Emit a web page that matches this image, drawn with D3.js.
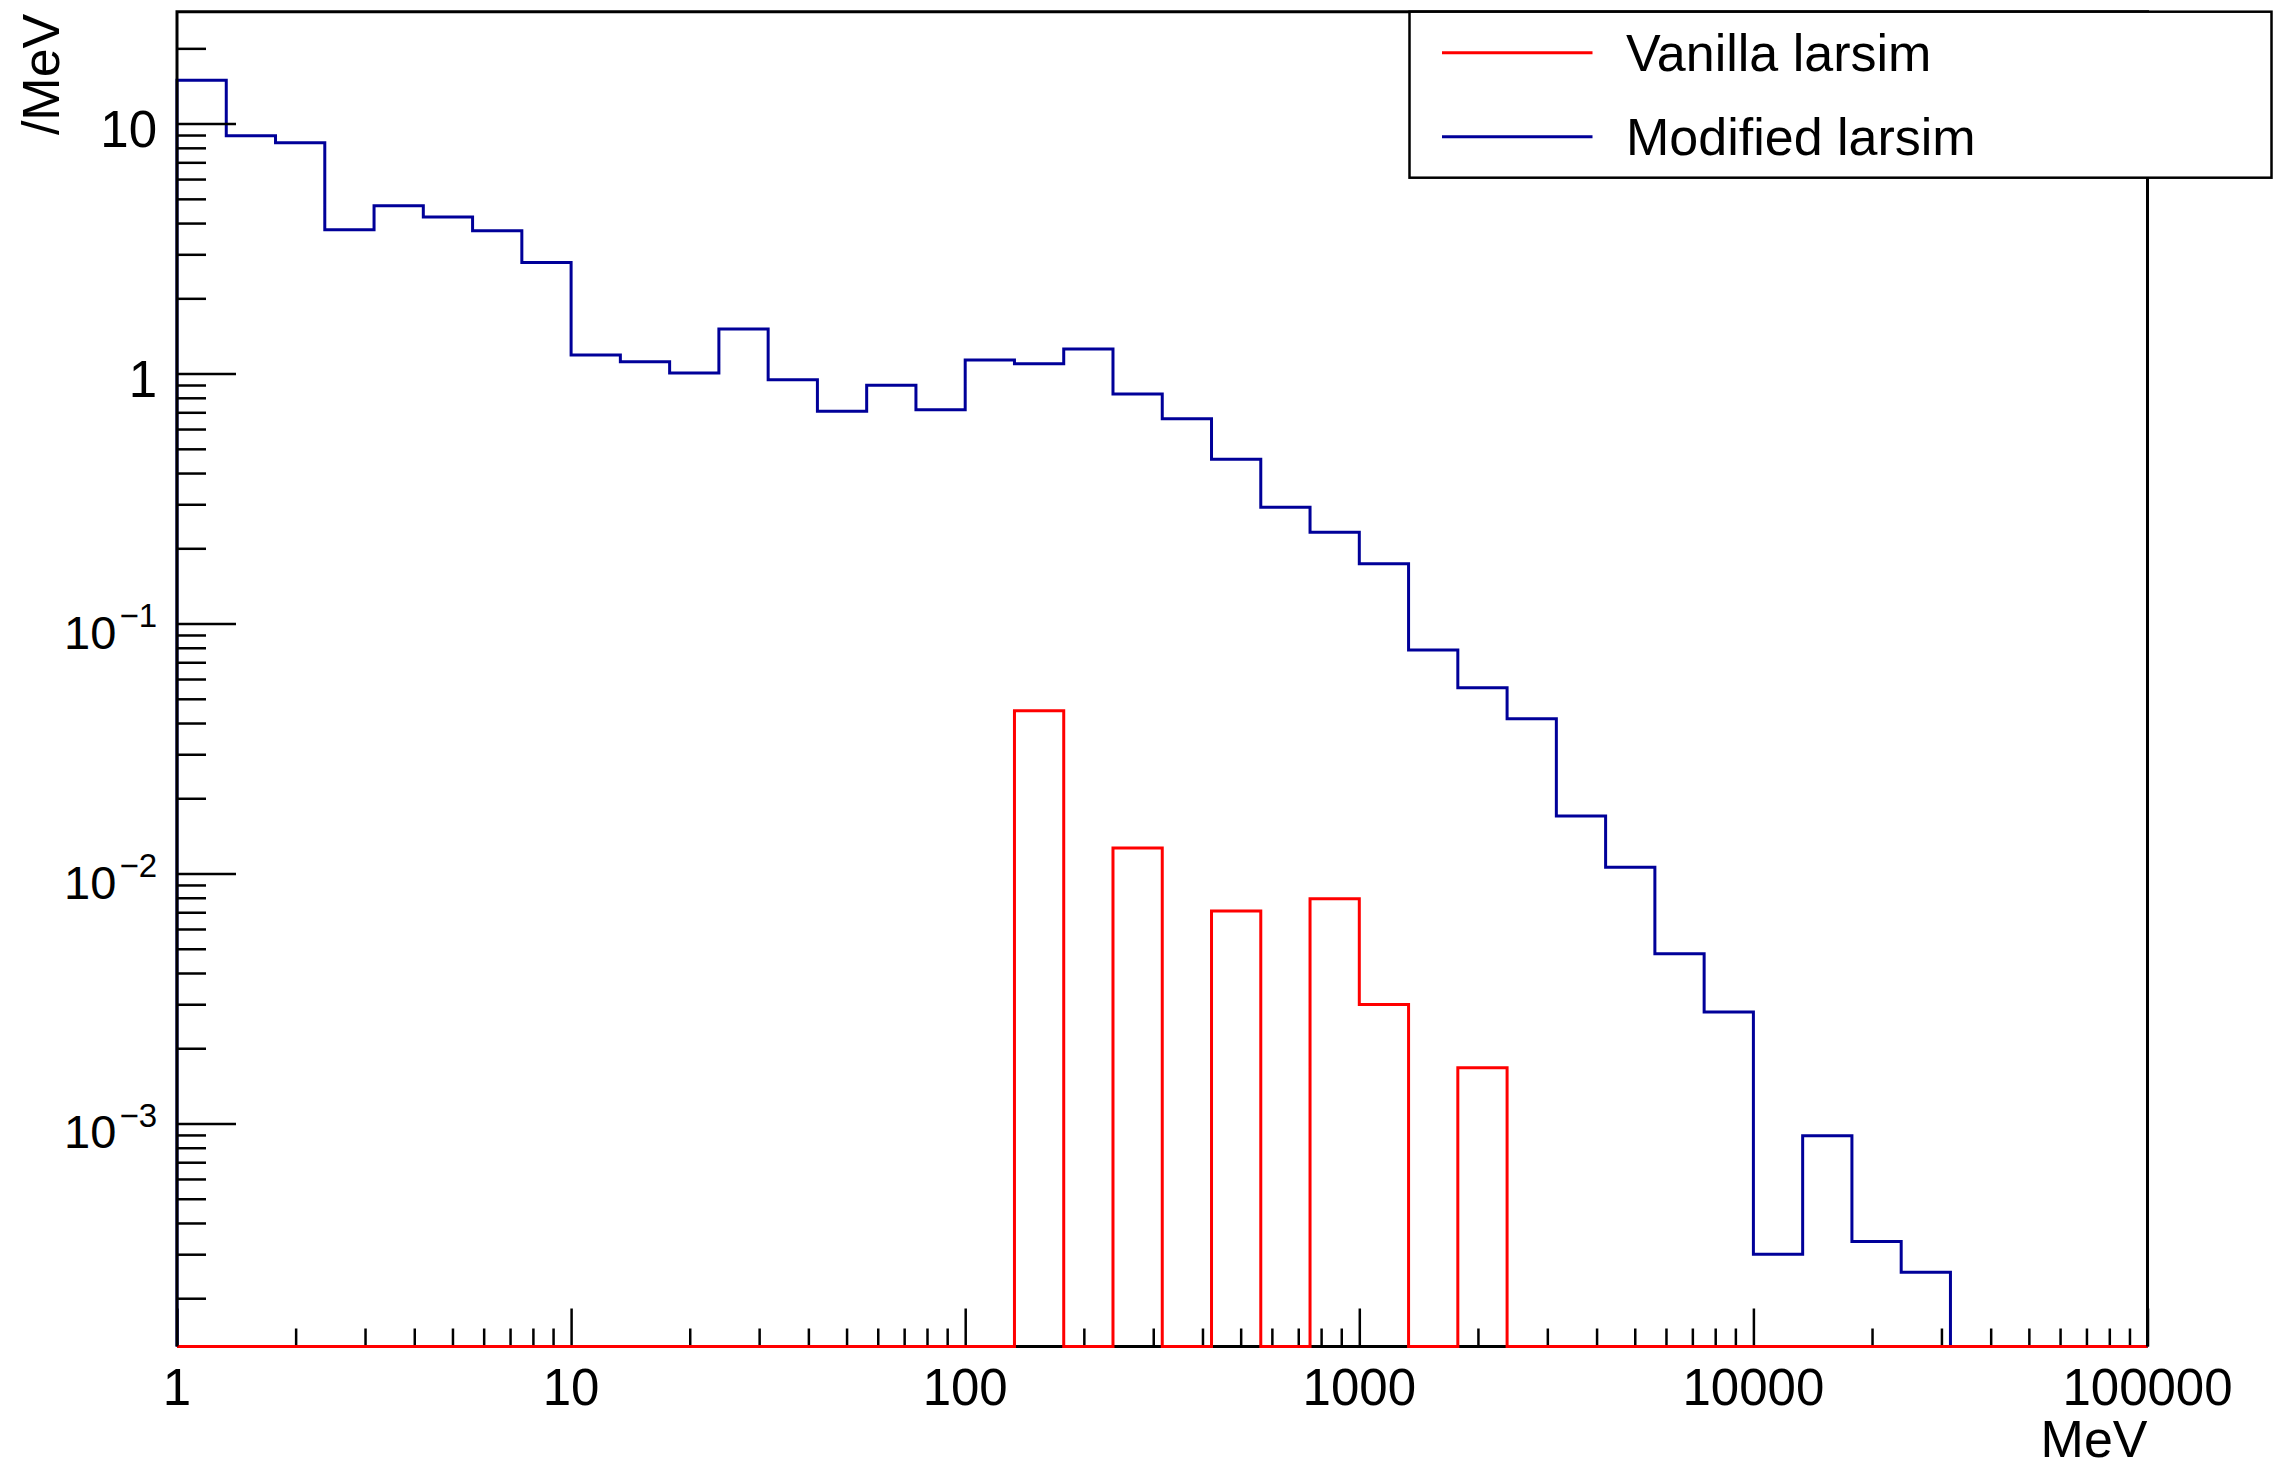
<!DOCTYPE html>
<html>
<head>
<meta charset="utf-8">
<script src="https://cdn.jsdelivr.net/npm/d3@7"></script>
<style>
body { margin: 0; background: #fff; }
text { font-family: "Liberation Sans", Arial, Helvetica, sans-serif; fill: #000; }
</style>
</head>
<body>
<script>
// 40 log-spaced bins between 1 MeV and 100000 MeV
var xMin = 1, xMax = 100000, nBins = 40;

var seriesNames = ["Vanilla larsim", "Modified larsim"];
var seriesColors = ["#ff0000", "#000099"];

// per-MeV content of each bin
var modifiedValues = [
    14.9, 8.94, 8.38, 3.76, 4.69, 4.23, 3.73, 2.78,
    1.186, 1.114, 1.005, 1.507, 0.944, 0.706, 0.899, 0.717,
    1.132, 1.094, 1.253, 0.828, 0.66, 0.454, 0.292, 0.232,
    0.1735, 0.0783, 0.0554, 0.0416, 0.01698, 0.0106, 0.00478, 0.00279,
    0.0003, 0.000894, 0.000337, 0.000254, 0, 0, 0, 0];

var vanillaValues = [
    0, 0, 0, 0, 0, 0, 0, 0,
    0, 0, 0, 0, 0, 0, 0, 0,
    0, 0.0448, 0, 0.01264, 0, 0.00708, 0, 0.00792,
    0.00299, 0, 0.00167, 0, 0, 0, 0, 0,
    0, 0, 0, 0, 0, 0, 0, 0];

var xTicks = [1, 10, 100, 1000, 10000, 100000];
var xTickLabels = ["1", "10", "100", "1000", "10000", "100000"];
var yTicks = [10, 1, 0.1, 0.01, 0.001];
var yTickBase = ["10", "1", "10", "10", "10"];
var yTickExp = ["", "", "\u22121", "\u22122", "\u22123"];

var width = 2275, height = 1469;
var margin = { top: 11.7, right: 127.5, bottom: 122.5, left: 177 };

var svg = d3.select("body").append("svg")
    .attr("width", width)
    .attr("height", height);

svg.append("rect").attr("width", width).attr("height", height).attr("fill", "#fff");

var x = d3.scaleLog().domain([xMin, xMax]).range([margin.left, width - margin.right]);
var y = d3.scaleLog().domain([1.282e-4, 28.03]).range([height - margin.bottom, margin.top]);

var yBottom = height - margin.bottom;

// bin edges of the log binning
var edges = d3.range(nBins + 1).map(function (i) {
    return Math.pow(10, Math.log10(xMin) + i * (Math.log10(xMax) - Math.log10(xMin)) / nBins);
});

// minor ticks 2..9 in each decade
function minors(lo, hi) {
    var out = [];
    for (var e = Math.floor(Math.log10(lo)); e < Math.ceil(Math.log10(hi)); e++) {
        for (var k = 2; k <= 9; k++) {
            var v = k * Math.pow(10, e);
            if (v > lo && v < hi) out.push(v);
        }
    }
    return out;
}

// x axis: ticks pointing up into the frame
var xMajor = d3.axisBottom(x).tickValues(xTicks).tickSizeInner(-38).tickSizeOuter(0).tickFormat("");
var xMinor = d3.axisBottom(x).tickValues(minors(xMin, xMax)).tickSizeInner(-18).tickSizeOuter(0).tickFormat("");

[xMajor, xMinor].forEach(function (ax) {
    var g = svg.append("g").attr("transform", "translate(0," + yBottom + ")").call(ax);
    g.select(".domain").remove();
    g.selectAll(".tick line").attr("stroke", "#000").attr("stroke-width", 2.5);
});

svg.append("line")
    .attr("x1", x(xMin)).attr("x2", x(xMax))
    .attr("y1", yBottom).attr("y2", yBottom)
    .attr("stroke", "#000").attr("stroke-width", 3);

// histograms drawn as outlines
function histPoints(values) {
    var pts = [[x(edges[0]), yBottom]];
    values.forEach(function (v, i) {
        var yy = v > y.domain()[0] ? y(v) : yBottom;
        pts.push([x(edges[i]), yy]);
        pts.push([x(edges[i + 1]), yy]);
    });
    pts.push([x(edges[nBins]), yBottom]);
    return pts;
}

var line = d3.line();

[modifiedValues, vanillaValues].forEach(function (vals, k) {
    svg.append("path")
        .attr("d", line(histPoints(vals)))
        .attr("fill", "none")
        .attr("stroke", k === 0 ? seriesColors[1] : seriesColors[0])
        .attr("stroke-width", 3)
        .attr("stroke-linejoin", "miter");
});

// frame: left, top, right
svg.append("path")
    .attr("d", "M" + x(xMin) + "," + yBottom + "V" + margin.top + "H" + x(xMax) + "V" + yBottom)
    .attr("fill", "none")
    .attr("stroke", "#000")
    .attr("stroke-width", 3);

// y axis: ticks pointing right into the frame
var yMajor = d3.axisLeft(y).tickValues(yTicks).tickSizeInner(-59).tickSizeOuter(0).tickFormat("");
var yMinor = d3.axisLeft(y).tickValues(minors(y.domain()[0], y.domain()[1])).tickSizeInner(-29).tickSizeOuter(0).tickFormat("");

[yMajor, yMinor].forEach(function (ax) {
    var g = svg.append("g").attr("transform", "translate(" + margin.left + ",0)").call(ax);
    g.select(".domain").remove();
    g.selectAll(".tick line").attr("stroke", "#000").attr("stroke-width", 2.5);
});

// x tick labels
svg.append("g").selectAll("text")
    .data(xTicks)
    .enter().append("text")
    .attr("x", function (d) { return x(d); })
    .attr("y", yBottom + 58.5)
    .attr("text-anchor", "middle")
    .style("font-size", "51px")
    .text(function (d, i) { return xTickLabels[i]; });

// y tick labels, powers of ten written with a superscript
var yLab = svg.append("g").selectAll("text")
    .data(yTicks)
    .enter().append("text")
    .attr("x", margin.left - 20)
    .attr("y", function (d, i) { return y(d) + (yTickExp[i] ? 25 : 23.5); })
    .attr("text-anchor", "end");

yLab.each(function (d, i) {
    var t = d3.select(this);
    if (yTickExp[i]) {
        t.append("tspan").style("font-size", "47px").text(yTickBase[i]);
        t.append("tspan").attr("dx", 3).attr("dy", -21.5).style("font-size", "33px").text(yTickExp[i]);
    } else {
        t.style("font-size", "51px").text(yTickBase[i]);
    }
});

// axis titles
svg.append("text")
    .attr("x", x(xMax))
    .attr("y", 1457)
    .attr("text-anchor", "end")
    .style("font-size", "52px")
    .text("MeV");

svg.append("text")
    .attr("transform", "translate(59," + (margin.top + 2) + ") rotate(-90)")
    .attr("text-anchor", "end")
    .style("font-size", "52px")
    .text("/MeV");

// legend
var legend = svg.append("g").attr("transform", "translate(1409.5,11.7)");

legend.append("rect")
    .attr("width", 862)
    .attr("height", 166)
    .attr("fill", "#fff")
    .attr("stroke", "#000")
    .attr("stroke-width", 2.5);

seriesNames.forEach(function (name, i) {
    var ly = 41 + i * 84;
    legend.append("line")
        .attr("x1", 32.5).attr("x2", 183)
        .attr("y1", ly).attr("y2", ly)
        .attr("stroke", seriesColors[i])
        .attr("stroke-width", 3);
    legend.append("text")
        .attr("x", 216.5)
        .attr("y", ly + 18)
        .style("font-size", "52px")
        .text(name);
});
</script>
</body>
</html>
